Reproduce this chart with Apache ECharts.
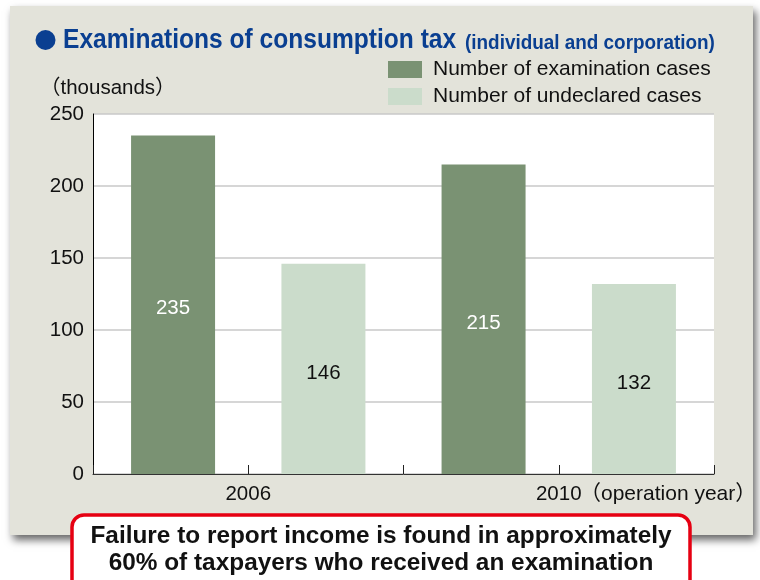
<!DOCTYPE html>
<html>
<head>
<meta charset="utf-8">
<script src="https://cdn.jsdelivr.net/npm/echarts@6/dist/echarts.min.js"></script>
<style>
html,body{margin:0;padding:0;background:#fff;}
#chart{width:760px;height:580px;}
</style>
</head>
<body>
<div id="chart"></div>
<script>
// ---- data ----
const years = ['2006', '2010'];
const seriesNames = ['Number of examination cases', 'Number of undeclared cases'];
const examinationCases = [235, 215];
const undeclaredCases = [146, 132];
const yTicks = [0, 50, 100, 150, 200, 250];

const FONT = "'Liberation Sans', Arial, 'Noto Sans CJK JP', sans-serif";
const chart = echarts.init(document.getElementById('chart'), null, {renderer: 'canvas'});

const option = {
  backgroundColor: '#ffffff',
  animation: false,
  textStyle: {fontFamily: FONT},
  grid: {
    left: 93, right: 46, top: 114, bottom: 106,
    show: true, backgroundColor: '#ffffff', borderWidth: 0
  },
  legend: {
    data: seriesNames,
    orient: 'vertical',
    left: 388, top: 59,
    padding: 0,
    itemWidth: 34, itemHeight: 17, itemGap: 6,
    icon: 'rect',
    textStyle: {fontSize: 21, color: '#111', fontFamily: FONT, padding: [0, 0, 0, 6]},
    selectedMode: false
  },
  xAxis: [
    {
      type: 'category',
      data: years,
      axisLine: {show: true, lineStyle: {color: '#333', width: 1}},
      axisTick: {show: false},
      axisLabel: {fontSize: 20.5, color: '#111', margin: 10, fontFamily: FONT},
      splitLine: {show: false}
    },
    {
      type: 'value',
      gridIndex: 0,
      position: 'bottom',
      z: 5,
      min: 0, max: 4, interval: 1,
      axisLine: {show: false},
      axisLabel: {show: false},
      splitLine: {show: false},
      axisTick: {show: true, inside: true, length: 9, lineStyle: {color: '#222', width: 1}}
    }
  ],
  yAxis: {
    type: 'value',
    min: yTicks[0], max: yTicks[yTicks.length - 1], interval: yTicks[1] - yTicks[0],
    axisLine: {show: true, lineStyle: {color: '#000', width: 1}},
    axisTick: {show: false},
    axisLabel: {fontSize: 20.5, color: '#111', margin: 9, fontFamily: FONT},
    splitLine: {show: true, lineStyle: {color: '#c8c8c8', width: 1.5}}
  },
  series: [
    {
      name: seriesNames[0],
      type: 'bar',
      xAxisIndex: 0,
      data: examinationCases,
      barWidth: 84,
      barGap: '79%',
      itemStyle: {color: '#7a9273'},
      label: {show: true, position: 'inside', offset: [0, 4], color: '#ffffff', fontSize: 20.5, fontFamily: FONT}
    },
    {
      name: seriesNames[1],
      type: 'bar',
      xAxisIndex: 0,
      data: undeclaredCases,
      barWidth: 84,
      barGap: '79%',
      itemStyle: {color: '#cbdccb'},
      label: {show: true, position: 'inside', offset: [0, 4], color: '#111111', fontSize: 20.5, fontFamily: FONT}
    }
  ],
  graphic: [
    {
      type: 'rect', z: -10,
      shape: {x: 10, y: 6, width: 743, height: 529},
      style: {fill: '#e3e3da', shadowBlur: 8, shadowOffsetX: 3, shadowOffsetY: 5, shadowColor: 'rgba(0,0,0,0.6)'}
    },
    {
      type: 'circle', z: 10,
      shape: {cx: 45.5, cy: 40, r: 10},
      style: {fill: '#0a3f91'}
    },
    {
      type: 'text', z: 10,
      x: 63, y: 41, scaleX: 0.91,
      style: {text: 'Examinations of consumption tax', fill: '#0a3f91', font: "bold 27px " + FONT, verticalAlign: 'middle'}
    },
    {
      type: 'text', z: 10,
      x: 465, y: 43, scaleX: 0.9,
      style: {text: '(individual and corporation)', fill: '#0a3f91', font: "bold 21px " + FONT, verticalAlign: 'middle'}
    },
    {
      type: 'text', z: 10,
      x: 40, y: 88,
      style: {text: '（thousands）', fill: '#111', font: "20.5px " + FONT, verticalAlign: 'middle'}
    },
    {
      type: 'text', z: 10,
      x: 580, y: 494,
      style: {text: '（operation year）', fill: '#111', font: "21px " + FONT, verticalAlign: 'middle'}
    },
    {
      type: 'rect', z: 50,
      shape: {x: 72, y: 515, width: 618, height: 85, r: 12},
      style: {fill: '#ffffff', stroke: '#e60012', lineWidth: 3.5}
    },
    {
      type: 'text', z: 51,
      x: 381, y: 537, scaleX: 1.06,
      style: {text: 'Failure to report income is found in approximately', fill: '#111', font: "bold 23px " + FONT, align: 'center', verticalAlign: 'middle'}
    },
    {
      type: 'text', z: 51,
      x: 381, y: 564, scaleX: 1.06,
      style: {text: '60% of taxpayers who received an examination', fill: '#111', font: "bold 23px " + FONT, align: 'center', verticalAlign: 'middle'}
    }
  ]
};
chart.setOption(option);
</script>
</body>
</html>
